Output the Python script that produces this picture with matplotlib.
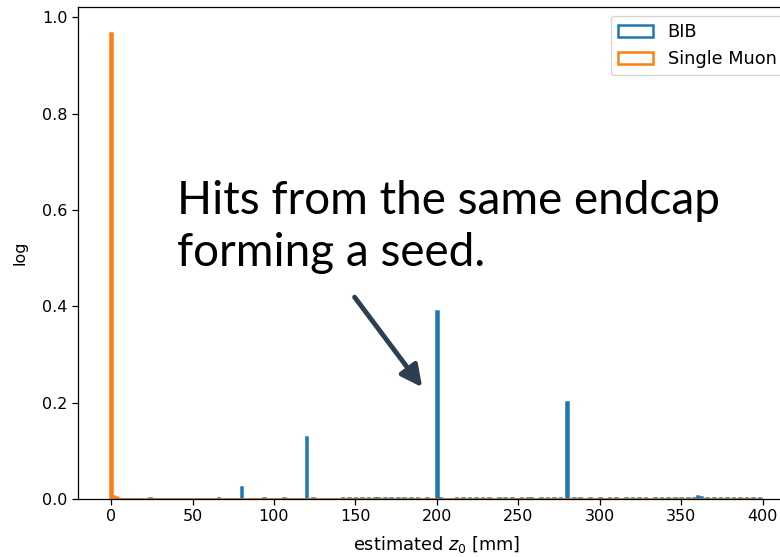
import matplotlib.pyplot as plt
import numpy

# bin edges: width 1, centred on integer z0 values
edges = numpy.arange(-0.5, 401, 1)

# BIB: big peaks + many tiny entries along the baseline
bib_peak_z = [80, 120, 200, 280]
bib_peak_h = [0.026, 0.129, 0.390, 0.201]
bib_small_z = [24, 66, 94, 106, 124, 142, 146, 150, 154, 158, 162, 164, 168,
               172, 176, 180, 184, 188, 194, 202, 212, 216, 220, 224, 228, 232,
               238, 242, 246, 252, 256, 258, 264, 268, 272, 276, 284, 288, 294,
               300, 306, 310, 316, 320, 324, 328, 334, 338, 342, 346, 350, 354,
               358, 360, 362, 366, 370, 374, 378, 382, 386, 390, 394, 398]
bib_small_h = [0.003] * len(bib_small_z)
bib_small_h[bib_small_z.index(360)] = 0.006
bib_small_h[bib_small_z.index(362)] = 0.005

# Single muon: everything sits at z0 ~ 0
muon_z = [0, 1, 2, 3, 4]
muon_h = [0.967, 0.006, 0.005, 0.004, 0.003]

fs = 11.5

if __name__ == "__main__":
    fig = plt.figure(figsize=(7.8, 5.57), dpi=100)
    ax = fig.add_axes([0.0996, 0.104, 0.921, 0.883])

    bib_x = bib_peak_z + bib_small_z
    bib_w = bib_peak_h + bib_small_h
    ax.hist(bib_x, bins=edges, weights=bib_w, histtype="step", label="BIB",
            color="C0", linewidth=1.8)
    ax.hist(muon_z, bins=edges, weights=muon_h, histtype="step",
            label="Single Muon", color="C1", linewidth=1.8)

    ax.set_xlim(-20.5, 420.5)
    ax.set_ylim(0, 1.0207)
    ax.set_xticks([0, 50, 100, 150, 200, 250, 300, 350, 400])
    ax.set_yticks([0.0, 0.2, 0.4, 0.6, 0.8, 1.0])
    ax.tick_params(labelsize=fs, length=4, width=0.9)
    for s in ax.spines.values():
        s.set_linewidth(0.9)
    ax.set_xlabel("estimated $z_0$ [mm]", fontsize=12.8, labelpad=7)
    ax.set_ylabel("log", fontsize=11.5, labelpad=10)
    ax.legend(loc="upper right", fontsize=12.8, bbox_to_anchor=(0.995, 1.0))

    # annotation
    ax.text(40.6, 0.662, "Hits from the same endcap\nforming a seed.",
            fontsize=33, family="Lato", ha="left", va="top", color="black",
            linespacing=1.3)
    ax.annotate("", xy=(191.0, 0.232), xytext=(149.5, 0.419),
                arrowprops=dict(arrowstyle="-|>", lw=3.5, color="#2c3e50",
                                mutation_scale=32, shrinkA=0, shrinkB=0))

    fig.savefig("out.png", dpi=100)
